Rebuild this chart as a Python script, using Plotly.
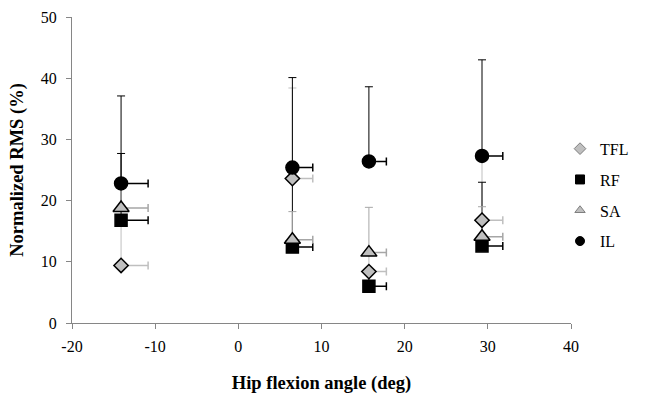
import plotly.graph_objects as go

# Hip flexion angle for each of the four test positions (deg) and its +SD
angles = [-14.1, 6.5, 15.7, 29.3]
angle_sd = [3.25, 2.45, 2.1, 2.5]

muscles = ["TFL", "RF", "SA", "IL"]

# Normalized RMS means (%) and upper SD (%)
tfl_mean = [9.4, 23.6, 8.4, 16.8]
tfl_sd = [7.0, 14.8, 3.0, 10.2]
rf_mean = [16.8, 12.4, 6.0, 12.6]
rf_sd = [10.9, 12.1, 2.0, 10.4]
sa_mean = [18.8, 13.6, 11.5, 14.1]
sa_sd = [4.0, 4.6, 7.4, 4.9]
il_mean = [22.8, 25.4, 26.4, 27.3]
il_sd = [14.3, 14.7, 12.2, 15.7]

x_ticks = [-20, -10, 0, 10, 20, 30, 40]
x_tick_text = ["-20", "-10", "0", "10", "20", "30", "40"]
y_ticks = [0, 10, 20, 30, 40, 50]

means = [tfl_mean, rf_mean, sa_mean, il_mean]
sds = [tfl_sd, rf_sd, sa_sd, il_sd]

err_colors = ["#BFBFBF", "#000000", "#A6A6A6", "#000000"]
symbols = ["diamond", "square", "triangle-up", "circle"]
fills = ["#BFBFBF", "#000000", "#BFBFBF", "#000000"]
sizes = [11, 12, 14, 13]

FONT = "Liberation Serif"

fig = go.Figure()

# One-sided error bars first, so all markers sit on top of them
for m, y, e, c in zip(muscles, means, sds, err_colors):
    fig.add_trace(go.Scatter(
        x=angles, y=y, mode="markers", showlegend=False, hoverinfo="skip",
        marker=dict(size=1, opacity=0),
        error_y=dict(type="data", symmetric=False, array=e,
                     arrayminus=[0] * len(e), color=c, thickness=1, width=4),
        error_x=dict(type="data", symmetric=False, array=angle_sd,
                     arrayminus=[0] * len(angle_sd), color=c, thickness=1.5, width=4),
    ))

# Markers
for m, y, s, f, sz in zip(muscles, means, symbols, fills, sizes):
    fig.add_trace(go.Scatter(
        x=angles, y=y, mode="markers", name=m, showlegend=False,
        marker=dict(symbol=s, size=sz, color=f,
                    line=dict(color="#000000", width=1.5)),
    ))

# Compact legend entries
leg_line = ["#7F7F7F", "#000000", "#7F7F7F", "#000000"]
for i, (m, s, f) in enumerate(zip(muscles, symbols, fills)):
    fig.add_trace(go.Scatter(
        x=[None], y=[None], mode="markers", name=m, legendgroup=m,
        marker=dict(symbol=s, size=9, color=f, line=dict(color=leg_line[i], width=1)),
    ))

axis_common = dict(
    showgrid=False, zeroline=False, showline=True, linecolor="#868686",
    linewidth=1, ticks="outside", ticklen=5, tickcolor="#868686",
    tickfont=dict(family=FONT, size=16, color="#000000"),
    automargin=False,
)

fig.update_layout(
    width=648, height=394,
    margin=dict(l=72, r=77, t=17, b=71),
    paper_bgcolor="white", plot_bgcolor="white",
    font=dict(family=FONT, color="#000000"),
    xaxis=dict(range=[-20, 40], tickvals=x_ticks, ticktext=x_tick_text,
               ticklabelstandoff=4,
               title=dict(text="<b>Hip flexion angle (deg)</b>",
                          font=dict(family=FONT, size=18.5), standoff=22),
               **axis_common),
    yaxis=dict(range=[0, 50], tickvals=y_ticks, ticklabelstandoff=6,
               title=dict(text="<b>Normalized RMS (%)</b>",
                          font=dict(family=FONT, size=18.5), standoff=12),
               **axis_common),
    legend=dict(x=0.978, y=0.625, xanchor="left", yanchor="top",
                font=dict(family=FONT, size=16), tracegroupgap=7,
                itemwidth=30, bgcolor="rgba(0,0,0,0)"),
)

fig.write_html("out.html")
